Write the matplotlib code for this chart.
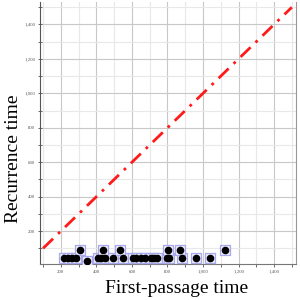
import matplotlib
matplotlib.use("Agg")
import matplotlib.pyplot as plt
from matplotlib.ticker import MultipleLocator, FuncFormatter

# first-passage vs recurrence times
first_passage = [220, 239, 262, 285, 346, 408, 425, 448, 493, 549, 606, 623,
                 651, 673, 707, 724, 741, 797, 808, 882, 961, 1039,
                 307, 437, 532, 803, 870, 1124]
recurrence = [43, 43, 43, 43, 26, 43, 43, 43, 43, 43, 43, 43,
              43, 43, 43, 43, 43, 43, 43, 43, 43, 43,
              90, 90, 90, 90, 90, 90]
diag = [100, 1500]

plt.rcParams["font.family"] = ["Liberation Serif", "DejaVu Serif"]

fig = plt.figure(figsize=(3, 3), dpi=100)
ax = fig.add_axes([0.133, 0.12, 0.854, 0.873])

# grid: light every 100, a bit darker every 200
ax.xaxis.set_major_locator(MultipleLocator(200))
ax.yaxis.set_major_locator(MultipleLocator(200))
ax.xaxis.set_minor_locator(MultipleLocator(100))
ax.yaxis.set_minor_locator(MultipleLocator(100))
ax.grid(which="major", color="#c8c8c8", linewidth=0.8)
ax.grid(which="minor", color="#e8e8e8", linewidth=0.8)
ax.set_axisbelow(True)

ax.plot(diag, diag, color="#ff1a1a", linewidth=2,
        linestyle=(0, (5, 2.5, 1, 2.5)), zorder=3)

# highlight boxes behind the points
ax.scatter(first_passage, recurrence, marker="s", s=52,
           facecolor="#ececfb", edgecolor="#a8a8ec", linewidth=0.9, zorder=4)
ax.scatter(first_passage, recurrence, marker="o", s=20,
           color="black", zorder=5)

ax.set_xlim(82, 1524)
ax.set_ylim(9, 1530)

fmt = FuncFormatter(lambda v, p: f"{int(v):,}")
ax.xaxis.set_major_formatter(fmt)
ax.yaxis.set_major_formatter(fmt)
ax.tick_params(which="both", labelsize=3.5, colors="#555555", length=2,
               width=0.6, pad=2)
ax.tick_params(axis="y", which="both", direction="inout", length=3)

ax.spines["top"].set_visible(False)
ax.spines["left"].set_color("#555555")
ax.spines["bottom"].set_color("#777777")
ax.spines["right"].set_color("#999999")
for s in ax.spines.values():
    s.set_linewidth(0.8)

ax.set_xlabel("First-passage time", fontsize=14)
ax.set_ylabel("Recurrence time", fontsize=14)
ax.xaxis.set_label_coords(0.535, -0.06)
ax.yaxis.set_label_coords(-0.068, 0.40)

fig.savefig("out.png", dpi=100)
